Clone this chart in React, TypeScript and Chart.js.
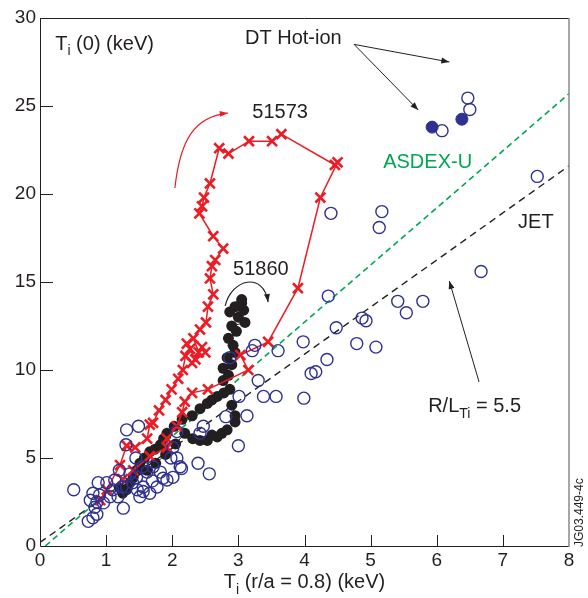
import React, { useEffect, useRef } from "react";
import { Chart, registerables } from "chart.js";

Chart.register(...registerables);

const FONT = "'Liberation Sans', Arial, Helvetica, sans-serif";
const INK = "#231f20";
const BLUE = "#2e3192";
const RED = "#ed1c24";
const GREEN = "#00a651";

const X_TICKS = [0, 1, 2, 3, 4, 5, 6, 7, 8];
const Y_TICKS = [0, 5, 10, 15, 20, 25, 30];

// Shot 51573 (red crosses, connected)
const shot51573: [number, number][] = [
  [0.91, 2.6], [1.01, 3.2], [1.21, 4.6], [1.31, 5.7], [1.44, 5.6], [1.62, 6.1], [1.66, 6.9], [1.71, 7.0],
  [1.8, 7.7], [1.9, 8.3], [1.99, 8.9], [2.09, 9.5], [2.16, 10.0], [2.2, 10.8], [2.27, 11.2], [2.22, 11.5],
  [2.35, 10.6], [2.45, 11.3], [2.5, 11.0], [2.3, 10.4], [2.4, 11.0], [2.32, 11.8], [2.42, 12.3], [2.51, 12.7],
  [2.54, 13.6], [2.62, 14.3], [2.57, 15.2], [2.6, 15.9], [2.65, 16.25], [2.77, 16.9], [2.62, 17.6], [2.41, 18.9],
  [2.45, 19.3], [2.48, 19.8], [2.57, 20.6], [2.71, 22.6], [2.85, 22.3], [3.16, 23.0], [3.51, 23.0], [3.65, 23.4],
  [4.46, 21.65], [4.5, 21.8], [4.24, 19.8], [3.9, 14.65], [3.45, 11.6], [3.03, 10.85], [3.15, 10.0], [2.54, 8.9],
  [2.3, 8.7], [2.19, 8.2], [2.15, 7.6], [2.07, 6.8], [1.92, 6.1], [1.92, 5.6], [1.66, 5.1], [1.41, 4.3],
  [1.25, 3.8],
];

// Shot 51860 (black filled circles)
const shot51860Upper: [number, number][] = [
  [1.25, 3.0], [1.31, 3.2], [1.36, 3.6], [1.41, 3.9], [1.46, 4.3], [1.51, 4.7], [1.58, 5.0], [1.66, 5.35],
  [1.74, 5.5], [1.82, 5.75], [1.87, 6.1], [1.92, 6.4], [2.03, 6.8], [2.15, 7.2], [2.3, 7.4], [2.42, 7.8],
  [2.53, 8.1], [2.6, 8.3], [2.68, 8.5], [2.78, 8.7], [2.87, 8.9], [2.77, 9.4], [2.85, 9.7], [2.77, 10.1],
  [2.9, 10.3], [2.83, 10.7], [2.95, 11.0], [2.92, 11.4], [2.85, 11.8], [2.97, 12.2], [2.9, 12.5], [3.1, 12.7],
  [3.0, 13.0], [2.87, 13.3], [3.08, 13.4], [2.95, 13.6], [3.05, 13.8], [3.05, 14.0],
];
const shot51860Lower: [number, number][] = [
  [1.2, 3.3], [1.62, 4.3], [1.75, 4.7], [1.9, 5.2], [2.05, 5.8], [2.19, 6.4], [2.31, 6.1], [2.42, 6.0],
  [2.53, 6.0], [2.6, 6.3], [2.68, 6.2], [2.75, 6.4], [2.83, 6.6], [2.95, 7.05], [2.95, 7.4], [2.9, 8.0],
];

// Database (blue open circles)
const database: [number, number][] = [
  [7.52, 21.0], [4.4, 18.9], [5.17, 19.0], [5.13, 18.1], [6.67, 15.6], [4.36, 14.2], [5.41, 13.9], [5.79, 13.9],
  [5.54, 13.25], [4.87, 12.95], [4.93, 12.8], [4.48, 12.4], [4.79, 11.5], [5.08, 11.3], [3.98, 11.6], [4.34, 10.6],
  [4.17, 9.9], [4.1, 9.8], [3.99, 8.4],
  [6.47, 25.45], [6.5, 24.8], [6.08, 23.6],
  [3.25, 11.4], [3.21, 11.1], [3.6, 11.1], [2.87, 10.7], [3.3, 9.4], [3.38, 8.5], [3.57, 8.5], [3.01, 8.5],
  [3.13, 7.4], [2.81, 7.35], [3.0, 5.7], [2.47, 6.8], [2.42, 6.4], [2.39, 4.7], [2.56, 4.1], [2.12, 4.5],
  [2.14, 4.4], [1.98, 5.0], [2.01, 5.6], [2.07, 6.5],
  [0.51, 3.2], [1.31, 6.6], [1.49, 6.8], [1.3, 5.75], [0.8, 1.6], [0.86, 1.8], [0.73, 1.4], [0.83, 2.2],
  [1.26, 2.15], [1.18, 2.8], [0.76, 2.6], [0.8, 3.0], [0.88, 3.6], [1.01, 3.6], [1.13, 3.75], [1.46, 3.9],
  [1.56, 3.35], [1.77, 3.35], [1.86, 3.85], [2.07, 5.0], [1.71, 4.5], [1.62, 4.2], [1.36, 4.1], [1.31, 3.35],
  [1.51, 2.8], [1.66, 3.0], [1.06, 2.8], [0.96, 2.45], [1.24, 3.35], [1.47, 3.2], [1.82, 4.2], [2.01, 3.9],
  [1.56, 3.1], [1.92, 3.75], [0.86, 2.5], [0.9, 2.9], [1.1, 3.2], [1.4, 3.6], [1.2, 4.3], [1.55, 4.5],
  [1.45, 5.0], [1.7, 3.7],
];

// DT hot-ion (blue filled circles)
const dtHotIon: [number, number][] = [[5.93, 23.8], [6.38, 24.25]];

// Reference lines
const asdexLine: [number, number][] = [[0.08, 0], [8, 25.7]];
const jetLine: [number, number][] = [[0, 0.2], [8, 21.6]];

const toXY = (arr: [number, number][]) => arr.map(([x, y]) => ({ x, y }));

type Part = { t: string; sub?: boolean };

function drawParts(ctx: CanvasRenderingContext2D, parts: Part[], x: number, y: number, size: number, color: string, center = false) {
  const main = `${size}px ${FONT}`;
  const sub = `${Math.round(size * 0.72)}px ${FONT}`;
  let total = 0;
  for (const p of parts) {
    ctx.font = p.sub ? sub : main;
    total += ctx.measureText(p.t).width;
  }
  let cx = center ? x - total / 2 : x;
  ctx.fillStyle = color;
  ctx.textAlign = "left";
  ctx.textBaseline = "alphabetic";
  for (const p of parts) {
    ctx.font = p.sub ? sub : main;
    ctx.fillText(p.t, cx, p.sub ? y + size * 0.28 : y);
    cx += ctx.measureText(p.t).width;
  }
}

function arrowHead(ctx: CanvasRenderingContext2D, fx: number, fy: number, tx: number, ty: number, color: string) {
  const ang = Math.atan2(ty - fy, tx - fx);
  const L = 8, W = 3;
  ctx.fillStyle = color;
  ctx.beginPath();
  ctx.moveTo(tx, ty);
  ctx.lineTo(tx - L * Math.cos(ang) + W * Math.sin(ang), ty - L * Math.sin(ang) - W * Math.cos(ang));
  ctx.lineTo(tx - L * Math.cos(ang) - W * Math.sin(ang), ty - L * Math.sin(ang) + W * Math.cos(ang));
  ctx.closePath();
  ctx.fill();
}

const decor = {
  id: "decor",
  afterDraw(chart: any) {
    const { ctx, chartArea: a, scales } = chart;
    const X = (v: number) => scales.x.getPixelForValue(v);
    const Y = (v: number) => scales.y.getPixelForValue(v);
    ctx.save();

    // frame
    ctx.lineWidth = 1;
    ctx.strokeStyle = INK;
    ctx.beginPath();
    ctx.moveTo(a.left + 0.5, a.top + 0.5);
    ctx.lineTo(a.left + 0.5, a.bottom + 0.5);
    ctx.lineTo(a.right, a.bottom + 0.5);
    ctx.moveTo(a.left, a.top + 0.5);
    ctx.lineTo(a.right, a.top + 0.5);
    ctx.stroke();
    ctx.strokeStyle = "#8a8a8a";
    ctx.lineWidth = 1.5;
    ctx.beginPath();
    ctx.moveTo(a.right, a.top);
    ctx.lineTo(a.right, a.bottom + 1);
    ctx.stroke();

    // inward ticks
    ctx.strokeStyle = INK;
    ctx.lineWidth = 1;
    ctx.beginPath();
    for (const v of X_TICKS.slice(1, -1)) {
      const px = Math.round(X(v)) + 0.5;
      ctx.moveTo(px, a.bottom);
      ctx.lineTo(px, a.bottom - 11);
    }
    for (const v of Y_TICKS.slice(1, -1)) {
      const py = Math.round(Y(v)) + 0.5;
      ctx.moveTo(a.left, py);
      ctx.lineTo(a.left + 13, py);
    }
    ctx.stroke();

    // texts
    drawParts(ctx, [{ t: "T" }, { t: "i", sub: true }, { t: " (0) (keV)" }], X(0.23), Y(28.2), 20, INK);
    drawParts(ctx, [{ t: "DT Hot-ion" }], X(3.1), Y(28.5), 20, INK);
    drawParts(ctx, [{ t: "51573" }], X(3.21), Y(24.3), 20, INK);
    drawParts(ctx, [{ t: "51860" }], X(2.92), Y(15.4), 20, INK);
    drawParts(ctx, [{ t: "ASDEX-U" }], X(5.19), Y(21.5), 20, GREEN);
    drawParts(ctx, [{ t: "JET" }], X(7.23), Y(18.07), 20, INK);
    drawParts(ctx, [{ t: "R/L" }, { t: "Ti", sub: true }, { t: " = 5.5" }], X(5.87), Y(7.61), 20, INK);
    drawParts(ctx, [{ t: "T" }, { t: "i", sub: true }, { t: " (r/a = 0.8) (keV)" }], (a.left + a.right) / 2, 588, 20, INK, true);

    // straight arrows
    ctx.strokeStyle = INK;
    ctx.lineWidth = 1;
    const straight = (x1: number, y1: number, x2: number, y2: number) => {
      const [a1, b1, a2, b2] = [X(x1), Y(y1), X(x2), Y(y2)];
      ctx.beginPath();
      ctx.moveTo(a1, b1);
      ctx.lineTo(a2, b2);
      ctx.stroke();
      arrowHead(ctx, a1, b1, a2, b2, INK);
    };
    straight(4.75, 28.5, 6.19, 27.5);
    straight(4.75, 28.5, 5.72, 24.77);
    straight(6.64, 9.32, 6.19, 15.06);

    // curved arrows
    const curve = (pts: number[], color: string) => {
      const p = [X(pts[0]), Y(pts[1]), X(pts[2]), Y(pts[3]), X(pts[4]), Y(pts[5]), X(pts[6]), Y(pts[7])];
      ctx.strokeStyle = color;
      ctx.lineWidth = 1.2;
      ctx.beginPath();
      ctx.moveTo(p[0], p[1]);
      ctx.bezierCurveTo(p[2], p[3], p[4], p[5], p[6], p[7]);
      ctx.stroke();
      arrowHead(ctx, p[4], p[5], p[6], p[7], color);
    };
    curve([2.04, 20.34, 2.12, 23.1, 2.34, 24.4, 2.84, 24.6], RED);
    curve([2.8, 13.64, 2.9, 15.2, 3.38, 15.6, 3.45, 13.86], INK);

    // figure code, vertical
    ctx.save();
    ctx.translate(583, 547);
    ctx.rotate(-Math.PI / 2);
    ctx.font = `12px ${FONT}`;
    ctx.fillStyle = INK;
    ctx.textAlign = "left";
    ctx.textBaseline = "alphabetic";
    ctx.fillText("JG03.449-4c", 0, 0);
    ctx.restore();

    ctx.restore();
  },
};

export default function App() {
  const ref = useRef<HTMLCanvasElement | null>(null);
  useEffect(() => {
    if (!ref.current) return;
    const chart = new Chart(ref.current, {
      type: "scatter",
      data: {
        datasets: [
          {
            data: toXY(database), pointStyle: "circle", pointRadius: 6, borderColor: BLUE,
            backgroundColor: "rgba(0,0,0,0)", borderWidth: 1.4, order: 0,
          } as any,
          {
            data: toXY(dtHotIon), pointStyle: "circle", pointRadius: 6, borderColor: BLUE,
            backgroundColor: BLUE, borderWidth: 1, order: 0,
          } as any,
          {
            data: toXY(shot51573), showLine: true, borderColor: RED, borderWidth: 1.5,
            pointStyle: "crossRot", pointRadius: 7, pointBorderWidth: 2.6, pointBorderColor: RED, order: 1,
          } as any,
          {
            data: toXY(shot51860Upper), showLine: true, borderColor: INK, borderWidth: 1,
            pointRadius: 5.5, pointBackgroundColor: INK, pointBorderColor: INK, pointBorderWidth: 0, order: 2,
          } as any,
          {
            data: toXY(shot51860Lower), showLine: true, borderColor: INK, borderWidth: 1,
            pointRadius: 5.5, pointBackgroundColor: INK, pointBorderColor: INK, pointBorderWidth: 0, order: 2,
          } as any,
          {
            data: toXY(asdexLine), showLine: true, borderColor: GREEN, borderWidth: 1.6,
            borderDash: [6, 4], pointRadius: 0, order: 3,
          } as any,
          {
            data: toXY(jetLine), showLine: true, borderColor: INK, borderWidth: 1.4,
            borderDash: [7, 5], pointRadius: 0, order: 3,
          } as any,
        ],
      },
      options: {
        responsive: false,
        animation: false,
        events: [],
        layout: { padding: { left: 0, top: 18, right: 19, bottom: 0 } },
        plugins: { legend: { display: false }, tooltip: { enabled: false }, title: { display: false } },
        scales: {
          x: {
            type: "linear", min: 0, max: 8,
            afterBuildTicks: (s: any) => { s.ticks = X_TICKS.map((v) => ({ value: v })); },
            afterFit: (s: any) => { s.height = 52; },
            grid: { display: false, drawTicks: false },
            border: { display: false },
            ticks: { color: INK, font: { family: FONT, size: 19 }, padding: 3, maxRotation: 0, autoSkip: false },
          },
          y: {
            type: "linear", min: 0, max: 30,
            afterBuildTicks: (s: any) => { s.ticks = Y_TICKS.map((v) => ({ value: v })); },
            afterFit: (s: any) => { s.width = 40; },
            grid: { display: false, drawTicks: false },
            border: { display: false },
            ticks: { color: INK, font: { family: FONT, size: 19 }, padding: 4, autoSkip: false },
          },
        },
      },
      plugins: [decor],
    });
    return () => chart.destroy();
  }, []);
  return (
    <div style={{ position: "fixed", left: 0, top: 0, width: 588, height: 598, background: "#fff" }}>
      <canvas ref={ref} width={588} height={598} style={{ display: "block" }} />
    </div>
  );
}
